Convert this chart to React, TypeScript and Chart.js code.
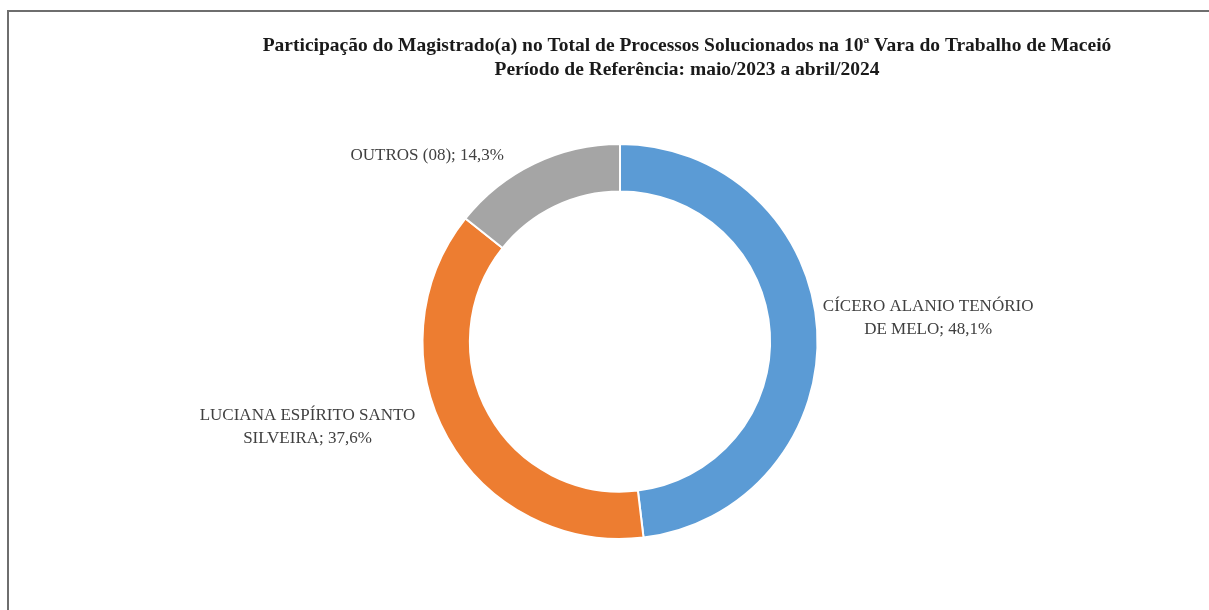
import React, { useEffect, useRef } from "react";
import { Chart, registerables } from "chart.js";

Chart.register(...registerables);

const TITLE_LINES = [
  "Participação do Magistrado(a) no Total de Processos Solucionados na 10ª Vara do Trabalho de Maceió",
  "Período de Referência: maio/2023 a abril/2024",
];
const CATEGORIES = [
  "CÍCERO ALANIO TENÓRIO DE MELO",
  "LUCIANA ESPÍRITO SANTO SILVEIRA",
  "OUTROS (08)",
];
const VALUES = [48.1, 37.6, 14.3];
const COLORS = ["#5B9BD5", "#ED7D31", "#A5A5A5"];
// offsets from arc mid-point (outer edge) to label block centre
const LABEL_OFFSETS = [
  [111, -12],
  [-140, -11],
  [-107, -8],
];

const W = 1209;
const H = 610;

function wrap(ctx: CanvasRenderingContext2D, text: string, maxW: number): string[] {
  const words = text.split(" ");
  const lines: string[] = [];
  let cur = "";
  for (const w of words) {
    const t = cur ? cur + " " + w : w;
    if (ctx.measureText(t).width > maxW && cur) {
      lines.push(cur);
      cur = w;
    } else cur = t;
  }
  if (cur) lines.push(cur);
  return lines;
}

const decorPlugin = {
  id: "decor",
  beforeDraw(chart: any) {
    const ctx = chart.ctx as CanvasRenderingContext2D;
    ctx.save();
    ctx.fillStyle = "#ffffff";
    ctx.fillRect(0, 0, W, H);
    ctx.strokeStyle = "#6e6e6e";
    ctx.lineWidth = 2;
    ctx.beginPath();
    ctx.moveTo(8, H);
    ctx.lineTo(8, 11);
    ctx.lineTo(W, 11);
    ctx.stroke();
    // title
    ctx.fillStyle = "#1a1a1a";
    ctx.font = "bold 19.5px 'Liberation Serif'";
    ctx.textAlign = "center";
    ctx.textBaseline = "middle";
    ctx.fillText(TITLE_LINES[0], 687, 46);
    ctx.fillText(TITLE_LINES[1], 687, 70);
    ctx.restore();
  },
  afterDraw(chart: any) {
    const ctx = chart.ctx as CanvasRenderingContext2D;
    const meta = chart.getDatasetMeta(0);
    ctx.save();
    ctx.fillStyle = "#404040";
    ctx.font = "17px 'Liberation Serif'";
    ctx.textAlign = "center";
    ctx.textBaseline = "middle";
    meta.data.forEach((arc: any, i: number) => {
      const p = arc.getProps(["x", "y", "startAngle", "endAngle", "outerRadius"], true);
      const mid = (p.startAngle + p.endAngle) / 2;
      const ax = p.x + Math.cos(mid) * p.outerRadius;
      const ay = p.y + Math.sin(mid) * p.outerRadius;
      const txt = `${CATEGORIES[i]}; ${VALUES[i].toFixed(1).replace(".", ",")}%`;
      const lines = wrap(ctx, txt, 226);
      const lh = 23;
      const cx = ax + LABEL_OFFSETS[i][0];
      const cy = ay + LABEL_OFFSETS[i][1];
      lines.forEach((l, k) => {
        ctx.fillText(l, cx, cy + (k - (lines.length - 1) / 2) * lh);
      });
    });
    ctx.restore();
  },
};

export default function App() {
  const ref = useRef<HTMLCanvasElement | null>(null);
  useEffect(() => {
    if (!ref.current) return;
    const chart = new Chart(ref.current, {
      type: "doughnut",
      data: {
        labels: CATEGORIES,
        datasets: [
          {
            data: VALUES,
            backgroundColor: COLORS,
            borderColor: "#ffffff",
            borderWidth: 2,
          },
        ],
      },
      options: {
        responsive: false,
        animation: false,
        cutout: "76%",
        layout: { padding: { top: 143, left: 421, right: 390, bottom: 70 } },
        plugins: {
          legend: { display: false },
          tooltip: { enabled: false },
          title: { display: false },
        },
      },
      plugins: [decorPlugin],
    });
    return () => chart.destroy();
  }, []);
  return (
    <div style={{ position: "fixed", left: 0, top: 0, width: W, height: H, background: "#fff" }}>
      <canvas ref={ref} width={W} height={H} style={{ display: "block", width: W, height: H }} />
    </div>
  );
}
